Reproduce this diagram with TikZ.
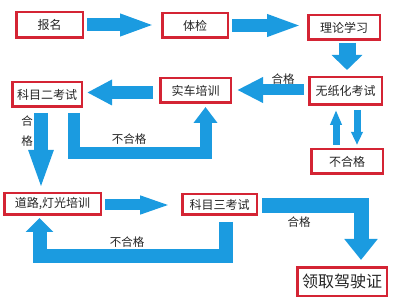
\documentclass[tikz,border=0pt]{standalone}
\usepackage{fontspec}
\newfontfamily\cjk{Noto Sans CJK SC}
\usetikzlibrary{arrows.meta}
\definecolor{arrowblue}{RGB}{27,155,224}
\definecolor{boxred}{RGB}{212,36,52}
\definecolor{textgray}{RGB}{35,35,35}

\begin{document}
\begin{tikzpicture}[x=1pt,y=-1pt,
  stepbox/.style={draw=boxred, line width=2.5pt, inner sep=0pt, text=textgray,
    font=\cjk\fontsize{12}{14}\selectfont},
  fat/.style={draw=arrowblue, line join=miter},
  lbl/.style={text=textgray, inner sep=0pt, font=\cjk\fontsize{11.5}{14}\selectfont}]
  \useasboundingbox (0,0) rectangle (399,307);

  % row 1
  \node[stepbox, minimum width=66.5pt, minimum height=25.5pt] (baoming) at (49.5,25) {报名};
  \node[stepbox, minimum width=65.5pt, minimum height=24.5pt] (tijian) at (195,25.5) {体检};
  \node[stepbox, minimum width=71.5pt, minimum height=24.5pt] (lilun) at (344,27.5) {理论学习};

  \draw[fat, line width=13pt, -{Triangle[length=35pt,width=20pt]}, shorten <=3pt, shorten >=6pt]
    (baoming.east) -- (baoming.east -| tijian.west);
  \draw[fat, line width=13pt, -{Triangle[length=35pt,width=20pt]}, shorten <=3pt, shorten >=5pt]
    (tijian.east) -- (tijian.east -| lilun.west);

  % row 2
  \node[stepbox, minimum width=72.5pt, minimum height=27.5pt] (wuzhi) at (345.5,91) {无纸化考试};
  \node[stepbox, minimum width=70.5pt, minimum height=24.5pt] (shiche) at (195.5,90.5) {实车培训};
  \node[stepbox, minimum width=69.5pt, minimum height=24.5pt] (kemu2) at (47,94.5) {科目二考试};
  \node[stepbox, minimum width=71.5pt, minimum height=24.5pt] (buhege) at (347,161.5) {不合格};

  \draw[fat, line width=17pt, -{Triangle[length=15pt,width=30pt]}, shorten <=2pt, shorten >=6pt]
    ([xshift=3pt]lilun.south) -- ([xshift=3pt]lilun.south |- wuzhi.north);
  \draw[fat, line width=11pt, -{Triangle[length=26pt,width=24pt]}, shorten <=4pt, shorten >=5pt]
    ([yshift=1pt]wuzhi.west) -- ([yshift=1pt]wuzhi.west -| shiche.east);
  \node[lbl] (hege1) at (283,79) {合格};
  \draw[fat, line width=13pt, -{Triangle[length=25pt,width=24pt]}, shorten <=6pt, shorten >=4pt]
    ([yshift=-2pt]shiche.west) -- ([yshift=-2pt]shiche.west -| kemu2.east);

  \draw[fat, line width=7pt, -{Triangle[length=15pt,width=11pt]}, shorten <=3pt, shorten >=4pt]
    ([xshift=-9.5pt]wuzhi.south |- buhege.north) -- ([xshift=-9.5pt]wuzhi.south);
  \draw[fat, line width=7pt, -{Triangle[length=13pt,width=11pt]}, shorten <=4pt, shorten >=3pt]
    ([xshift=11.5pt]wuzhi.south) -- ([xshift=11.5pt]wuzhi.south |- buhege.north);

  % row 3
  \node[stepbox, minimum width=96.5pt, minimum height=21.5pt] (daolu) at (52.5,204) {道路,灯光培训};
  \node[stepbox, minimum width=74.5pt, minimum height=20.5pt] (kemu3) at (219.5,204.5) {科目三考试};
  \node[stepbox, minimum width=89.5pt, minimum height=28.5pt,
    font=\cjk\fontsize{16}{18}\selectfont] (lingqu) at (342,281.5) {领取驾驶证};

  % kemu 2 results
  \draw[fat, line width=14pt, -{Triangle[length=40pt,width=22pt]}, shorten <=5pt, shorten >=2pt]
    ([xshift=-6pt]kemu2.south) -- ([xshift=-6pt]kemu2.south |- daolu.north);
  \node[lbl, align=center, font=\cjk\fontsize{11.5}{20}\selectfont] (hege2) at (27,131) {合\\格};
  \draw[fat, line width=12pt, -{Triangle[length=16pt,width=23pt]}, shorten <=5pt, shorten >=3pt]
    ([xshift=27pt]kemu2.south) -- ++(0,45) -| ([xshift=10pt]shiche.south);
  \node[lbl] (buhege2) at (129,139) {不合格};

  % kemu 3 results
  \draw[fat, line width=11pt, -{Triangle[length=38pt,width=15pt]}, shorten <=3pt, shorten >=3pt]
    ([yshift=-1pt]daolu.east) -- ([yshift=-1pt]daolu.east -| kemu3.west);
  \draw[fat, line width=14pt, -{Triangle[length=14pt,width=27pt]}, shorten <=6pt, shorten >=2pt]
    ([xshift=6.5pt]kemu3.south) -- ++(0,40) -| ([xshift=-13pt]daolu.south);
  \node[lbl] (buhege3) at (127,242) {不合格};
  \draw[fat, line width=15pt, -{Triangle[length=21pt,width=32pt]}, shorten <=4pt, shorten >=6pt]
    ([yshift=-1pt]kemu3.east) -| ([xshift=19pt]lingqu.north);
  \node[lbl] (hege3) at (299,222) {合格};
\end{tikzpicture}
\end{document}
